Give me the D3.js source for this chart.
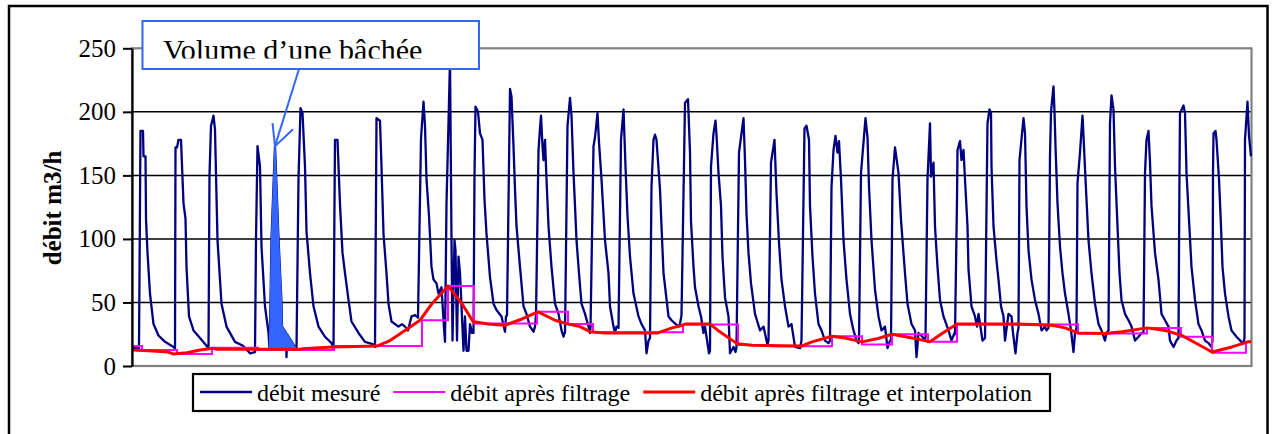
<!DOCTYPE html>
<html>
<head>
<meta charset="utf-8">
<script src="https://cdn.jsdelivr.net/npm/d3@7"></script>
<style>
  body { margin: 0; background: #fff; }
  svg { display: block; }
  svg text { font-family: "Liberation Serif", "Tinos", "Times New Roman", "DejaVu Serif", serif; fill: #000; }
</style>
</head>
<body>
<svg id="chart" width="1275" height="434"></svg>
<script>
// time index (one step per sample), flow in m3/h
const measuredFlow = [
  [0,14],[7,14],[8.5,185],[11,185],[11.5,165],[13.5,165],[14,116],[15.5,89],[18,57],[21.5,33],[26.5,24],[33,19],[39.5,16],[43,14],
  [43.5,172],[45,172],[46.5,178],[49,178],[51.5,128],[53.5,116],[54.5,78],[57,39],[61.5,28],[68,22],[74.5,16],[76.5,14],
  [77.5,150],[79,189],[81.5,197],[83,186],[85.5,99],[89.5,49],[94.5,31],[103,19],[111,16],[118,10],[123,11],
  [124,100],[125.5,173],[128,157],[129.5,94],[133,47],[136.5,26],[137.5,14],
  [138.5,50],[139.5,100],[143,173],[146.5,100],[149.5,50],[150,31],[154,26],[154.5,7],[155,25],[164.5,13],
  [166.5,147],[168.5,203],[170.5,199],[173,157],[174.5,106],[178,73],[181.5,47],[186.5,31],[193,23],[199.5,18],[201.5,14],
  [202.5,128],[203,178],[205.5,178],[208,127],[210.5,89],[213,73],[216.5,52],[219.5,35],[226.5,26],[233,19],[241.5,17],[243,15],
  [244.5,195],[248,193],[249.5,157],[251.5,104],[254.5,73],[256.5,49],[259.5,35],[266.5,31],[270,33],[273,31],[276,28],[279.5,39],[283,40],[286,38],
  [289,179],[291.5,208],[293,189],[294.5,147],[297,118],[299.5,78],[301.5,68],[304.5,65],[306.5,57],[309.5,62],[312,30],[313,19],
  [314.5,128],[318,240],[319.5,99],[320.5,20],[322.5,99],[323.5,91],[325,20],[326.5,86],[328,73],[329.5,47],[331.5,12],[333,39],[334.5,12],[336.5,12],[338,33],[340,26],
  [341.5,26],[342.5,150],[343.5,204],[346,200],[348,183],[350.5,178],[352.5,131],[354.5,104],[358,70],[361.5,49],[364.5,44],[369.5,39],[373,27],[374,39],
  [375,40],[378,218],[379.5,212],[381.5,173],[383,139],[384.5,110],[388,78],[391.5,47],[394.5,41],[398,31],[401.5,27],[403,31],
  [404,40],[406.5,170],[408,187],[409,197],[410.5,173],[411.5,162],[413,178],[414.5,147],[416.5,110],[419.5,78],[423,49],[426.5,41],[429.5,28],[431.5,23],[432.5,26],
  [433,26],[435.5,189],[438,211],[439.5,197],[441.5,152],[443,126],[444.5,99],[447,73],[449.5,49],[453,41],[456.5,31],[458,26],
  [458.5,30],[461.5,173],[463,180],[465.5,199],[467,176],[469.5,147],[473,99],[476.5,73],[478,47],[481.5,31],[483,26],[484.5,31],
  [486.5,30],[489,178],[491.5,202],[493.5,157],[495.5,118],[498,86],[501.5,57],[506.5,39],[509.5,33],[513,28],[514.5,10],[516.5,20],
  [518,22],[519.5,141],[521.5,178],[523,182],[524.5,178],[528,139],[529.5,110],[531.5,73],[536.5,39],[539.5,36],[546.5,31],[548,33],
  [549.5,40],[553,207],[556,210],[558,168],[559,114],[561.5,78],[563,62],[566.5,47],[569,39],[571.5,26],[573,31],[574.5,23],[577,10],
  [578,12],[579,157],[581.5,183],[583.5,193],[584.5,182],[586.5,152],[589,126],[590.5,86],[593,54],[596.5,39],[598,10],[601.5,15],[603.5,11],
  [604.5,15],[607,168],[611.5,195],[613,162],[614.5,120],[616.5,89],[619,65],[623,41],[628,28],[631.5,31],[634.5,20],[635.5,17],
  [636.5,20],[639,160],[642.5,178],[644.5,136],[647,97],[649.5,68],[653,47],[656.5,31],[659.5,33],[663,15],[668,14],
  [669.5,20],[672.5,187],[674.5,189],[677,178],[678,126],[680.5,86],[683,57],[686.5,33],[689.5,28],[693,20],[696.5,18],
  [698,20],[699.5,141],[701.5,170],[703.5,181],[705.5,168],[707,177],[709,147],[711.5,99],[714.5,68],[718,41],[721.5,28],[724.5,20],[726.5,18],
  [727,20],[729,152],[733.5,195],[735.5,180],[737,141],[739.5,99],[743,60],[746.5,39],[749.5,28],[753,31],[755.5,14],[758,20],
  [759,20],[760.5,147],[763,172],[766.5,152],[769,115],[773,73],[775.5,49],[779.5,33],[783,28],[784.5,7],[786.5,26],[790.5,23],[792.5,20],
  [793.5,22],[795.5,147],[798,191],[799,149],[801.5,160],[803,110],[805.5,78],[808,52],[811.5,39],[816.5,28],[819.5,20],[822.5,26],
  [823,25],[825,131],[825.5,170],[828,177],[829.5,162],[831.5,170],[833,147],[835.5,110],[836.5,76],[839.5,47],[843,39],[845,31],[846.5,41],[849,28],[850.5,20],
  [853,22],[855.5,191],[857.5,202],[859,199],[859.5,157],[861.5,110],[864.5,83],[866.5,68],[869,47],[871.5,39],[873,20],[876.5,41],[879.5,39],[881,26],[883.5,10],[885.5,26],
  [886.5,30],[887.5,162],[891.5,195],[893,183],[894.5,126],[896.5,91],[899.5,68],[903,52],[906.5,41],[909.5,28],[913,31],[914.5,28],
  [916.5,30],[918,165],[919,200],[921.5,220],[922.5,200],[923.5,173],[925.5,128],[928,94],[930.5,73],[933,57],[936.5,41],[939,28],[941.5,11],[943,26],
  [944.5,30],[945.5,144],[948,168],[950.5,197],[951.5,181],[953.5,147],[956.5,99],[959.5,73],[963,49],[966.5,33],[969.5,28],[973,20],[974.5,26],
  [976.5,28],[978,191],[979.5,213],[981.5,202],[983,157],[985.5,110],[987.5,73],[989.5,52],[993,41],[996.5,36],[999.5,31],[1003,20],[1006.5,23],[1009.5,26],
  [1011.5,26],[1013,152],[1014.5,178],[1016.5,185],[1018,160],[1019.5,126],[1023,89],[1026.5,68],[1029.5,41],[1033,36],[1036.5,31],[1038,20],[1041.5,15],[1044.5,20],
  [1046.5,22],[1047.5,152],[1048,199],[1051.5,205],[1053,199],[1054.5,152],[1057,115],[1059.5,78],[1063,52],[1066.5,33],[1069.5,28],[1073,20],[1076.5,18],[1079.5,15],
  [1080.5,20],[1081,152],[1081.5,183],[1083.5,185],[1084.5,178],[1087,147],[1089,110],[1090.5,78],[1093,57],[1096.5,39],[1099.5,28],[1104.5,23],[1109.5,19],[1111.5,18],
  [1112.5,22],[1113,178],[1115.5,208],[1117,181],[1119,165]
];

// filtered flow: [start of step, value]
const filteredSteps = [
  [0,15.7],[10,12.6],[45,9.5],[80,14.4],[126,12.6],[202,15.7],[290,36],[316,63],[342,33.5],
  [405,42.6],[436,33],[461,26.5],[551,32.6],[606,16.5],[640,15.5],[700,23.5],[730,17],[760,25],
  [796,19],[825,32.7],[946,25.5],[1015,30],[1049,23],[1080,10.5],[1114,19],[1119,19]
];

const interpolatedFlow = [
  [0,12.6],[21,11.8],[36,11],[41,9.5],[55,10.5],[68,12.6],[81,13.9],[85,13.1],[168,13.1],[170,13.5],
  [201,15],[245,15.7],[258,20],[273,28],[288,36],[300,49],[316,63],[330,49],[341,35],[356,33],
  [373,32],[390,37],[406,42.6],[423,36],[436,33],[448,31],[458,27],[473,26],[526,26],[540,30],
  [551,32],[553,33],[578,33],[586,28],[605,17.6],[620,16.3],[670,15.8],[680,19],[700,23.4],[713,22],
  [730,19],[746,21.6],[760,25],[783,21.6],[798,19],[810,25.5],[825,33],[886,33],[920,32],[933,30],
  [946,26],[973,25.5],[990,27],[1015,30],[1033,28],[1050,24],[1080,11],[1100,15],[1116,19],[1119,19]
];

const yTicks = [0, 50, 100, 150, 200, 250];
const xDomain = [0, 1119];
const bacheeRange = [137.5, 164.5]; // one pumping cycle highlighted
const bacheeBase = 13;
const seriesNames = ["débit mesuré", "débit après filtrage", "débit après filtrage et interpolation"];
const seriesColors = ["#000080", "#ff00ff", "#ff0000"];
const seriesWidths = [2.3, 2, 3];
const annotationText = "Volume d\u2019une bâchée";
const axisTitle = "débit m3/h";

const svg = d3.select("#chart");
const plot = { left: 132, top: 48.3, right: 1251.5, bottom: 366 };

const x = d3.scaleLinear().domain(xDomain).range([plot.left, plot.right - 0.5]);
const y = d3.scaleLinear().domain([0, 250]).range([plot.bottom, plot.top]);

// outer chart frame
svg.append("rect")
  .attr("x", 9).attr("y", 6).attr("width", 1258.5).attr("height", 440)
  .attr("fill", "#fff").attr("stroke", "#000").attr("stroke-width", 2.5);

// gridlines
svg.append("g")
  .selectAll("line")
  .data(yTicks.filter((d) => d > 0 && d < 250))
  .join("line")
  .attr("x1", plot.left).attr("x2", plot.right)
  .attr("y1", (d) => y(d)).attr("y2", (d) => y(d))
  .attr("stroke", "#000").attr("stroke-width", 1.5);

// plot area border
svg.append("rect")
  .attr("x", plot.left).attr("y", plot.top)
  .attr("width", plot.right - plot.left).attr("height", plot.bottom - plot.top)
  .attr("fill", "none").attr("stroke", "#808080").attr("stroke-width", 2.2);

const line = d3.line().x((d) => x(d[0])).y((d) => y(d[1]));

svg.append("path")
  .datum(measuredFlow)
  .attr("d", line)
  .attr("fill", "none")
  .attr("stroke", seriesColors[0])
  .attr("stroke-width", seriesWidths[0])
  .attr("stroke-linejoin", "round");

// highlighted volume of one cycle
const bachee = measuredFlow.filter((d) => d[0] >= bacheeRange[0] && d[0] <= bacheeRange[1] && d[1] >= bacheeBase);
svg.append("path")
  .datum(bachee)
  .attr("d", d3.area().x((d) => x(d[0])).y0(y(bacheeBase)).y1((d) => y(d[1])))
  .attr("fill", "#3366ff")
  .attr("stroke", "#3366ff")
  .attr("stroke-width", 1.5);

svg.append("path")
  .datum(filteredSteps)
  .attr("d", d3.line().x((d) => x(d[0])).y((d) => y(d[1])).curve(d3.curveStepAfter))
  .attr("fill", "none")
  .attr("stroke", seriesColors[1])
  .attr("stroke-width", seriesWidths[1]);

svg.append("path")
  .datum(interpolatedFlow)
  .attr("d", line)
  .attr("fill", "none")
  .attr("stroke", seriesColors[2])
  .attr("stroke-width", seriesWidths[2])
  .attr("stroke-linejoin", "round");

// y axis
const yAxis = svg.append("g")
  .attr("transform", `translate(${plot.left},0)`)
  .call(d3.axisLeft(y).tickValues(yTicks).tickSize(9).tickPadding(7).tickSizeOuter(0));
yAxis.attr("font-family", null).attr("font-size", null);
yAxis.select(".domain").attr("stroke", "#000").attr("stroke-width", 2.2);
yAxis.selectAll(".tick line").attr("stroke", "#000").attr("stroke-width", 2);
yAxis.selectAll(".tick text").style("font-size", "25px");

svg.append("text")
  .attr("transform", "translate(61,208) rotate(-90)")
  .attr("text-anchor", "middle")
  .style("font-size", "25px")
  .style("font-weight", "bold")
  .text(axisTitle);

// callout arrow to the peak of the highlighted cycle
const peak = bachee.reduce((a, b) => (b[1] > a[1] ? b : a));
const tip = [x(peak[0]), y(peak[1])];
const callout = svg.append("g").attr("stroke", "#3366ff").attr("stroke-width", 2).attr("fill", "none");
callout.append("line").attr("x1", 299).attr("y1", 69).attr("x2", tip[0]).attr("y2", tip[1]);
callout.append("polyline")
  .attr("points", [[tip[0] - 2.5, tip[1] - 23], tip, [tip[0] + 18, tip[1] - 17]].map((p) => p.join(",")).join(" "));

svg.append("rect")
  .attr("x", 142.5).attr("y", 21).attr("width", 336.5).attr("height", 48)
  .attr("fill", "#fff").attr("stroke", "#3366ff").attr("stroke-width", 2);

svg.append("clipPath").attr("id", "boxClip")
  .append("rect").attr("x", 143).attr("y", 22).attr("width", 335).attr("height", 36.5);

svg.append("text")
  .attr("clip-path", "url(#boxClip)")
  .attr("x", 163).attr("y", 59.5)
  .style("font-size", "30px")
  .text(annotationText);

// legend
const legend = svg.append("g");
legend.append("rect")
  .attr("x", 193).attr("y", 374).attr("width", 857).attr("height", 37)
  .attr("fill", "#fff").attr("stroke", "#000").attr("stroke-width", 2.2);

let lx = 200;
seriesNames.forEach((name, i) => {
  legend.append("line")
    .attr("x1", lx).attr("x2", lx + 52)
    .attr("y1", 392).attr("y2", 392)
    .attr("stroke", seriesColors[i]).attr("stroke-width", seriesWidths[i]);
  const t = legend.append("text")
    .attr("x", lx + 57).attr("y", 401)
    .style("font-size", "24px")
    .text(name);
  lx += 57 + t.node().getComputedTextLength() + 13;
});
</script>
</body>
</html>
